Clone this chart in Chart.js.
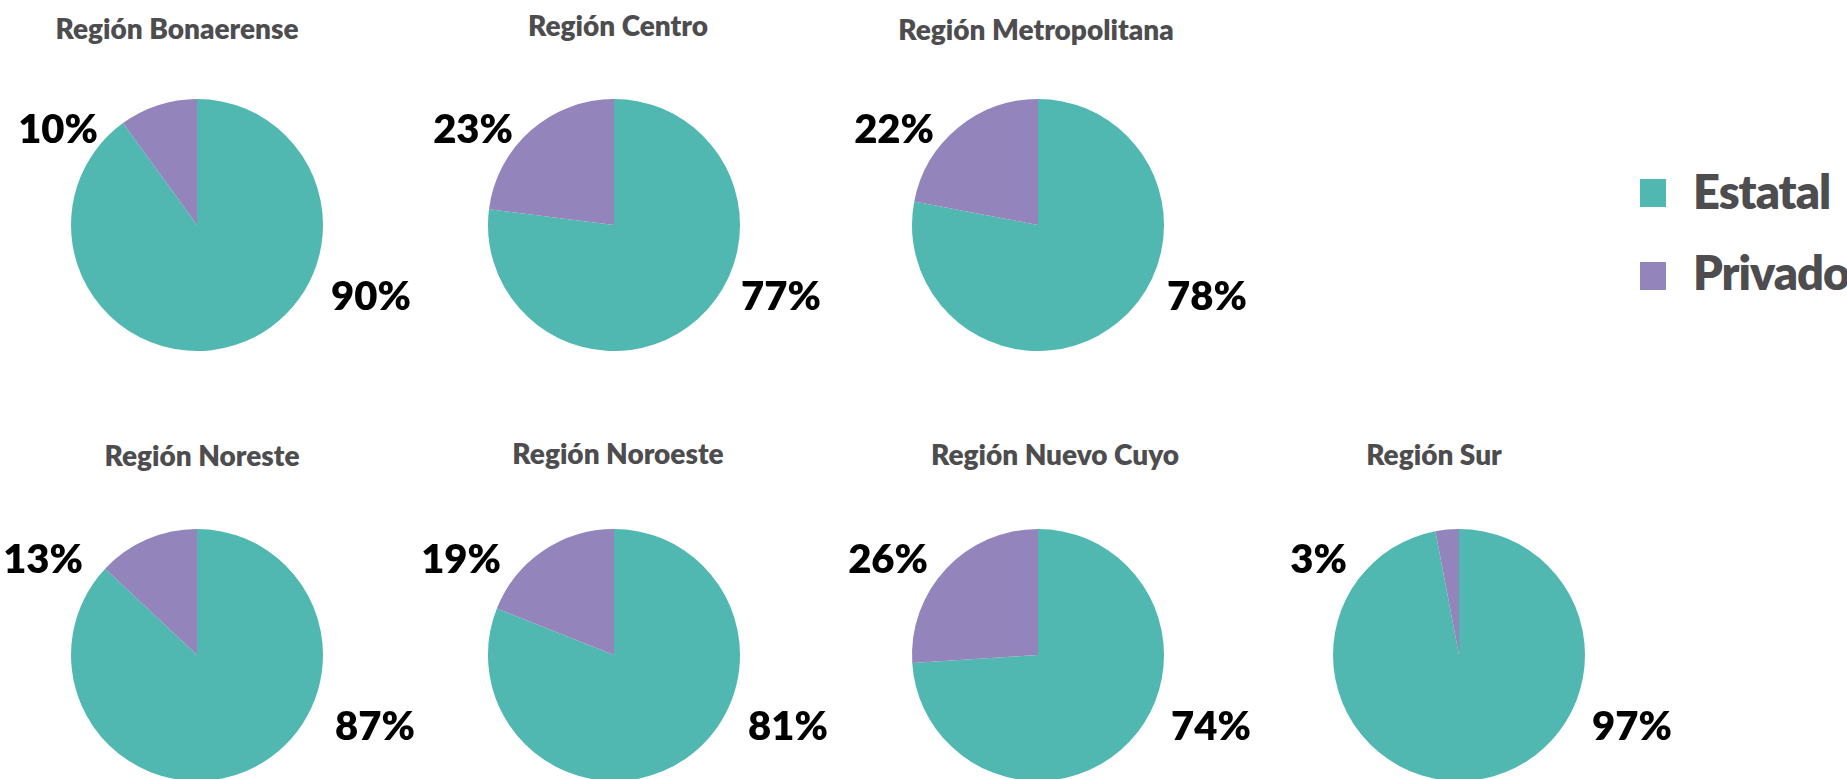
<!DOCTYPE html>
<html>
<head>
<meta charset="utf-8">
<script src="https://cdn.jsdelivr.net/npm/chart.js@4"></script>
<style>
  html, body { margin: 0; padding: 0; background: #fff; overflow: hidden; }
  body { width: 1847px; height: 779px; position: relative; font-family: Lato, "Open Sans", sans-serif; }
  .box { position: absolute; }
  .title { position: absolute; width: 400px; text-align: center; font-weight: 800; font-size: 28px; line-height: 28px; color: #4d4d4f; white-space: nowrap; }
  .legend-sq { position: absolute; width: 26px; height: 28px; }
  .legend-txt { position: absolute; font-weight: 800; font-size: 47px; line-height: 47px; letter-spacing: -1px; color: #4d4d4f; white-space: nowrap; }
</style>
</head>
<body>
<script>
// data
const regiones = ['Región Bonaerense', 'Región Centro', 'Región Metropolitana', 'Región Noreste', 'Región Noroeste', 'Región Nuevo Cuyo', 'Región Sur'];
const series = ['Estatal', 'Privado'];
const estatal = [90, 77, 78, 87, 81, 74, 97];
const privado = [10, 23, 22, 13, 19, 26, 3];

const colores = ['#50b8b1', '#9384bb'];

// where each pie sits: pie center, title center/baseline,
// right edge of the privado label and center of the estatal label (offsets from pie center)
const layout = [
  { cx: 197, cy: 225, tx: 177, ty: 39, px: -99, ex: 174 },
  { cx: 614, cy: 225, tx: 618, ty: 36, px: -101, ex: 167 },
  { cx: 1038, cy: 225, tx: 1036, ty: 40, px: -104, ex: 169 },
  { cx: 197, cy: 655, tx: 202, ty: 466, px: -114, ex: 178 },
  { cx: 614, cy: 655, tx: 618, ty: 464, px: -113, ex: 174 },
  { cx: 1038, cy: 655, tx: 1055, ty: 465, px: -110, ex: 173 },
  { cx: 1459, cy: 655, tx: 1434, ty: 465, px: -112, ex: 173 }
];

const W = 480, H = 320;

// percent labels: privado up-left, estatal down-right
const pctLabels = {
  id: 'pctLabels',
  afterDatasetsDraw(chart, args, opts) {
    const arc = chart.getDatasetMeta(0).data[0];
    if (!arc) return;
    const { x, y } = arc;
    const vals = chart.data.datasets[0].data;
    const ctx = chart.ctx;
    ctx.save();
    ctx.fillStyle = '#000';
    ctx.font = '800 40px Lato, "Open Sans", sans-serif';
    ctx.textBaseline = 'alphabetic';
    ctx.textAlign = 'right';
    ctx.fillText(vals[1] + '%', x + opts.px, y - 82);
    ctx.textAlign = 'center';
    ctx.fillText(vals[0] + '%', x + opts.ex, y + 85);
    ctx.restore();
  }
};

regiones.forEach((nombre, i) => {
  const pos = layout[i];

  const box = document.createElement('div');
  box.className = 'box';
  box.style.left = (pos.cx - W / 2) + 'px';
  box.style.top = (pos.cy - H / 2) + 'px';
  const canvas = document.createElement('canvas');
  canvas.width = W;
  canvas.height = H;
  box.appendChild(canvas);
  document.body.appendChild(box);

  const title = document.createElement('div');
  title.className = 'title';
  title.textContent = nombre;
  title.style.left = (pos.tx - 200) + 'px';
  title.style.top = (pos.ty - 25) + 'px';
  document.body.appendChild(title);

  new Chart(canvas, {
    type: 'pie',
    data: {
      labels: series,
      datasets: [{
        data: [estatal[i], privado[i]],
        backgroundColor: colores,
        borderWidth: 0
      }]
    },
    options: {
      responsive: false,
      animation: false,
      layout: { padding: { left: 114, right: 114, top: 34, bottom: 34 } },
      plugins: {
        legend: { display: false },
        tooltip: { enabled: false },
        pctLabels: { px: pos.px, ex: pos.ex }
      }
    },
    plugins: [pctLabels]
  });
});

// legend
const legendPos = [{ y: 179, base: 210 }, { y: 262, base: 291 }];
series.forEach((s, i) => {
  const sq = document.createElement('div');
  sq.className = 'legend-sq';
  sq.style.left = '1640px';
  sq.style.top = legendPos[i].y + 'px';
  sq.style.background = colores[i];
  document.body.appendChild(sq);

  const txt = document.createElement('div');
  txt.className = 'legend-txt';
  txt.textContent = s;
  txt.style.left = '1693px';
  txt.style.top = (legendPos[i].base - 42) + 'px';
  document.body.appendChild(txt);
});
</script>
</body>
</html>
